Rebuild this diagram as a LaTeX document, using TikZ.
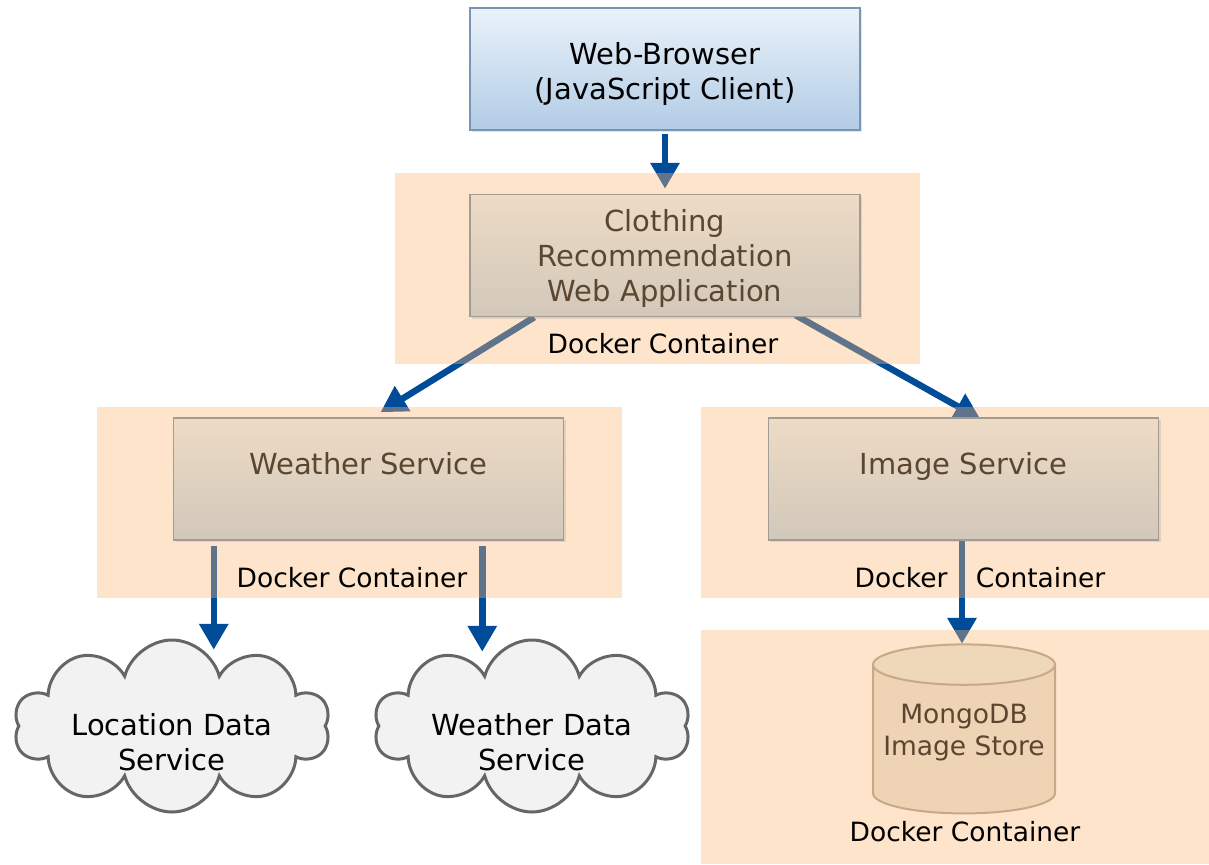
\documentclass[tikz,border=0pt]{standalone}
\usepackage{fontspec}
\setmainfont{DejaVu Sans}
\usetikzlibrary{arrows.meta,positioning,calc,shapes.geometric,shapes.symbols,shadows}
\definecolor{browsertop}{HTML}{EAF2FA}
\definecolor{browserbottom}{HTML}{B2CCE5}
\definecolor{browserline}{HTML}{7896B4}
\definecolor{svctop}{HTML}{EDDBC5}
\definecolor{svcbottom}{HTML}{D2C8BA}
\definecolor{svcline}{HTML}{A19C94}
\definecolor{svctext}{HTML}{5B4630}
\definecolor{flowblue}{HTML}{004C99}
\definecolor{dockorange}{RGB}{250,183,115}
\definecolor{cloudfill}{HTML}{F2F2F2}
\definecolor{cloudline}{HTML}{666666}
\definecolor{dbbody}{HTML}{EED3B4}
\definecolor{dbend}{HTML}{EFD7BA}
\definecolor{dbline}{HTML}{C8A985}
\newcommand\boxfont{\fontsize{29}{35}\selectfont}
\newcommand\dockfont{\fontsize{26.5}{32}\selectfont}
% text that does not size its node, moved by #1
\newcommand\flattext[2]{\smash{\raisebox{#1}{\begin{tabular}{@{}c@{}}#2\end{tabular}}}}
\pgfdeclarelayer{flowlayer}
\pgfdeclarelayer{docklayer}
\pgfsetlayers{flowlayer,docklayer,main}
\tikzset{
box/.style={shading=axis, line width=1.5pt, minimum width=390, minimum height=122, align=center, font=\boxfont,
    drop shadow={opacity=0.2, shadow xshift=2pt, shadow yshift=-2pt}},
clientbox/.style={box, draw=browserline, top color=browsertop, bottom color=browserbottom},
servicebox/.style={box, draw=svcline, top color=svctop, bottom color=svcbottom, text=svctext},
dockbox/.style={rectangle, fill=dockorange, fill opacity=0.38, inner sep=0pt, draw=none},
docklabel/.style={font=\dockfont},
extservice/.style={cloud, cloud puffs=10, cloud ignores aspect, draw=cloudline, line width=3pt, fill=cloudfill,
    minimum width=316, minimum height=172, font=\boxfont, inner sep=0pt},
store/.style={cylinder, shape border rotate=90, aspect=0.25, draw=dbline, line width=2pt,
    cylinder uses custom fill, cylinder body fill=dbbody, cylinder end fill=dbend,
    minimum width=182, minimum height=169, inner sep=0pt, text=svctext, font=\dockfont},
flow/.style={-{Triangle[width=28pt,length=26pt]}, line width=6.5pt, draw=flowblue},
}

\begin{document}
\begin{tikzpicture}[x=1pt,y=-1pt]
    \useasboundingbox (0,0) rectangle (1209,864);

    % containers
    \begin{pgfonlayer}{docklayer}
        \node[dockbox, minimum width=525, minimum height=191] (topdock) at (657.5,268.5) {};
        \node[dockbox, minimum width=525, minimum height=191] (weatherdock) at (359.5,502.5) {};
        \node[dockbox, minimum width=508, minimum height=191] (imagedock) at (955,502.5) {};
        \node[dockbox, minimum width=508, minimum height=234] (storedock) at (955,747) {};
    \end{pgfonlayer}

    % services
    \node[clientbox] (browser) at (665,69) {\flattext{-12pt}{Web-Browser\\(JavaScript Client)}};
    \node[servicebox] (clothing) at (665,255.5) {\flattext{-10pt}{Clothing\\Recommendation\\Web Application}};
    \node[servicebox] (weather) at (368.5,479) {\flattext{5pt}{Weather Service}};
    \node[servicebox] (image) at (963.5,479) {\flattext{5pt}{Image Service}};

    \node[extservice] (location) at (172,726) {\flattext{-26pt}{Location Data\\Service}};
    \node[extservice] (weatherdata) at (532,726) {\flattext{-26pt}{Weather Data\\Service}};

    \node[store] (mongo) at (964,739.5) {\flattext{0pt}{MongoDB\\Image Store}};

    % docker labels
    \node[docklabel] (toplabel) at (663,344) {Docker Container};
    \node[docklabel] (weatherlabel) at (352,578) {Docker Container};
    \node[docklabel] (imagelabel) at (980,578) {Docker\hspace{20pt} Container};
    \node[docklabel] (storelabel) at (965,832) {Docker Container};

    % connections
    \begin{pgfonlayer}{flowlayer}
        \draw[flow, shorten <=3pt, shorten >=5pt] (browser) -- (clothing);
        \draw[flow] ([xshift=65pt]clothing.south west) -- ([xshift=12pt,yshift=5pt]weather.north);
        \draw[flow] ([xshift=-65pt,yshift=2pt]clothing.south east) -- ([xshift=17pt,yshift=-2pt]image.north);
        \draw[flow] ([xshift=41pt,yshift=-5pt]weather.south west) -- ([xshift=41pt,yshift=-109pt]weather.south west);
        \draw[flow] ([xshift=-82pt,yshift=-5pt]weather.south east) -- ([xshift=-82pt,yshift=-111pt]weather.south east);
        \draw[flow] ([xshift=-1.5pt]image.south) -- ([xshift=-1.5pt,yshift=-103pt]image.south);
    \end{pgfonlayer}
\end{tikzpicture}
\end{document}
